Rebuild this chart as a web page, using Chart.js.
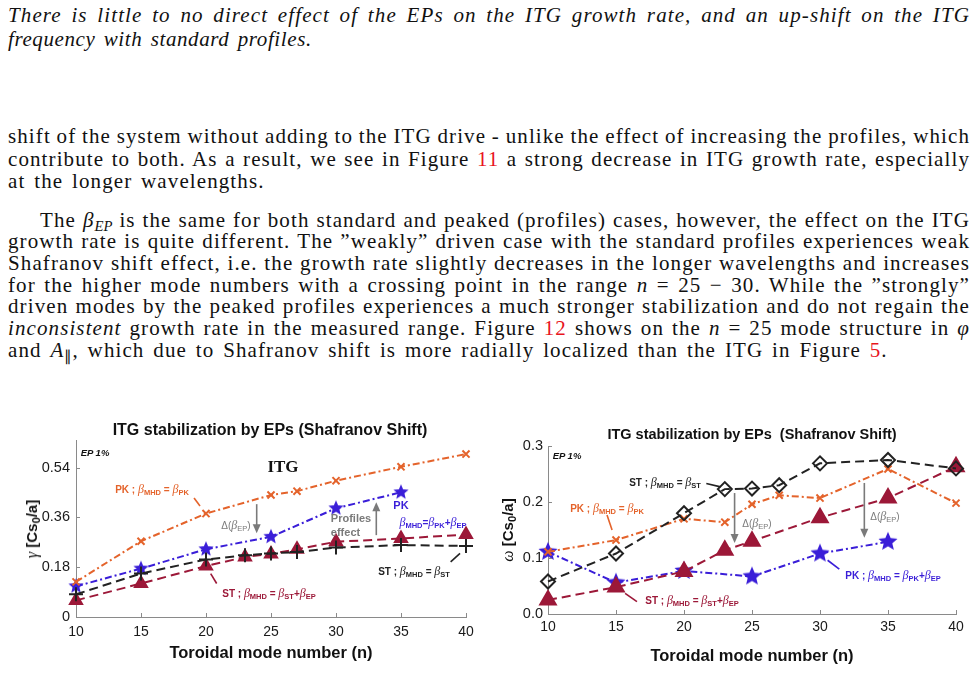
<!DOCTYPE html>
<html>
<head>
<meta charset="utf-8">
<script src="https://cdn.jsdelivr.net/npm/chart.js@4.4.1/dist/chart.umd.min.js"></script>
<style>
  body { margin: 0; width: 978px; height: 688px; position: relative; overflow: hidden; background: #fff; color: #111; font-family: "Liberation Serif", serif; }
  .ln { position: absolute; left: 8px; width: 962px; font-size: 21px; line-height: 22px; white-space: nowrap; letter-spacing: 1.1px; word-spacing: 2.5px; }
  .ln sub { font-size: 0.7em; vertical-align: -0.25em; line-height: 0; letter-spacing: 0; }
  .r { color: #e8141c; }
  canvas { position: absolute; top: 420px; }
  .a { position: absolute; white-space: nowrap; transform: translate(-50%, -50%); font-family: "Liberation Sans", Arial, sans-serif; }
  .ttl { font-size: 16px; font-weight: bold; color: #111; }
  .xl { font-size: 16.5px; font-weight: bold; color: #111; }
  .yl { font-size: 15px; font-weight: bold; color: #111; transform: translate(-50%, -50%) rotate(-90deg); }
  .yl i { font-family: "Liberation Serif", serif; font-weight: normal; font-size: 16px; }
  .yl sub, .ann sub { line-height: 0; vertical-align: -0.3em; font-size: 0.75em; }
  .ep { font-size: 9.5px; font-weight: bold; font-style: italic; }
  .ann { font-size: 10px; font-weight: bold; }
  .ann i { font-family: "Liberation Serif", serif; font-weight: normal; font-size: 12px; }
  .gr { color: #7a7a7a; }
</style>
</head>
<body>

<div class="ln j" style="top:4px"><span><i>There is little to no direct effect of the EPs on the ITG growth rate, and an up-shift on the ITG</i></span></div>
<div class="ln" style="top:28px;letter-spacing:0.6px"><span><i>frequency with standard profiles.</i></span></div>

<div class="ln j" style="top:125px"><span>shift of the system without adding to the ITG drive - unlike the effect of increasing the profiles, which</span></div>
<div class="ln j" style="top:148px"><span>contribute to both. As a result, we see in Figure <span class="r">11</span> a strong decrease in ITG growth rate, especially</span></div>
<div class="ln" style="top:170px"><span>at the longer wavelengths.</span></div>
<div class="ln j" style="top:209px;padding-left:32px;width:930px"><span>The <i>β<sub>EP</sub></i> is the same for both standard and peaked (profiles) cases, however, the effect on the ITG</span></div>
<div class="ln j" style="top:230px"><span>growth rate is quite different. The ”weakly” driven case with the standard profiles experiences weak</span></div>
<div class="ln j" style="top:252px"><span>Shafranov shift effect, i.e. the growth rate slightly decreases in the longer wavelengths and increases</span></div>
<div class="ln j" style="top:274px"><span>for the higher mode numbers with a crossing point in the range <i>n</i> = 25 − 30. While the ”strongly”</span></div>
<div class="ln j" style="top:295px"><span>driven modes by the peaked profiles experiences a much stronger stabilization and do not regain the</span></div>
<div class="ln j" style="top:317px"><span><i>inconsistent</i> growth rate in the measured range. Figure <span class="r">12</span> shows on the <i>n</i> = 25 mode structure in <i>φ</i></span></div>
<div class="ln" style="top:339px"><span>and <i>A</i><sub>∥</sub>, which due to Shafranov shift is more radially localized than the ITG in Figure <span class="r">5</span>.</span></div>

<canvas id="gammaChart" width="490" height="268" style="left:0"></canvas>
<canvas id="omegaChart" width="488" height="268" style="left:490px"></canvas>

<!-- left chart texts -->
<div class="a ttl" style="left:270px;top:430px">ITG stabilization by EPs (Shafranov Shift)</div>
<div class="a ep" style="left:95px;top:452px">EP 1%</div>
<div class="a" style="left:283px;top:467px;font-family:'Liberation Serif',serif;font-weight:bold;font-size:17px">ITG</div>
<div class="a ann" style="left:152px;top:489px;color:#e4632b">PK ; <i>β</i><sub>MHD</sub> = <i>β</i><sub>PK</sub></div>
<div class="a ann gr" style="left:236px;top:525px;font-weight:normal">Δ(<i>β</i><sub>EP</sub>)</div>
<div class="a ann gr" style="left:351px;top:525px;font-size:11px;line-height:14px;text-align:left">Profiles<br>effect</div>
<div class="a ann" style="left:401px;top:505px;color:#3a1ed8;font-size:11px">PK</div>
<div class="a ann" style="left:433px;top:522px;color:#3a1ed8"><i>β</i><sub>MHD</sub>=<i>β</i><sub>PK</sub>+<i>β</i><sub>EP</sub></div>
<div class="a ann" style="left:414px;top:571px;color:#222">ST ; <i>β</i><sub>MHD</sub> = <i>β</i><sub>ST</sub></div>
<div class="a ann" style="left:269px;top:593px;color:#9c1838">ST ; <i>β</i><sub>MHD</sub> = <i>β</i><sub>ST</sub>+<i>β</i><sub>EP</sub></div>
<div class="a yl" style="left:32px;top:529px"><i>γ</i> [Cs<sub>0</sub>/a]</div>
<div class="a xl" style="left:271px;top:652px">Toroidal mode number (n)</div>

<!-- right chart texts -->
<div class="a ttl" style="left:752px;top:434px;font-size:14.5px;white-space:pre">ITG stabilization by EPs  (Shafranov Shift)</div>
<div class="a ep" style="left:567px;top:455px">EP 1%</div>
<div class="a ann" style="left:665px;top:482px;color:#222">ST ; <i>β</i><sub>MHD</sub> = <i>β</i><sub>ST</sub></div>
<div class="a ann" style="left:607px;top:508px;color:#e4632b">PK ; <i>β</i><sub>MHD</sub> = <i>β</i><sub>PK</sub></div>
<div class="a ann gr" style="left:757px;top:523px;font-weight:normal">Δ(<i>β</i><sub>EP</sub>)</div>
<div class="a ann gr" style="left:885px;top:516px;font-weight:normal">Δ(<i>β</i><sub>EP</sub>)</div>
<div class="a ann" style="left:692px;top:600px;color:#9c1838">ST ; <i>β</i><sub>MHD</sub> = <i>β</i><sub>ST</sub>+<i>β</i><sub>EP</sub></div>
<div class="a ann" style="left:893px;top:575px;color:#3a1ed8">PK ; <i>β</i><sub>MHD</sub> = <i>β</i><sub>PK</sub>+<i>β</i><sub>EP</sub></div>
<div class="a yl" style="left:508px;top:530px"><i>ω</i> [Cs<sub>0</sub>/a]</div>
<div class="a xl" style="left:752px;top:655px">Toroidal mode number (n)</div>

<script>
// stretch the justified lines to the full text width
document.querySelectorAll('.ln.j').forEach(d => {
  const span = d.firstElementChild;
  const avail = d.clientWidth - (parseFloat(d.style.paddingLeft) || 0);
  const w = span.getBoundingClientRect().width;
  const spaces = (span.textContent.match(/ /g) || []).length;
  d.style.wordSpacing = (2.5 + (avail - w) / spaces) + 'px';
});

// axis ticks
const nTicks = [10, 15, 20, 25, 30, 35, 40];
const gammaTicks = [0, 0.18, 0.36, 0.54];
const gammaTickLabels = ['0', '0.18', '0.36', '0.54'];
const omegaTicks = [0, 0.1, 0.2, 0.3];
const omegaTickLabels = ['0.0', '0.1', '0.2', '0.3'];

// growth rate gamma (left panel)
const nPK = [10, 15, 20, 25, 27, 30, 35, 40];
const gammaPK = [0.127, 0.274, 0.374, 0.441, 0.455, 0.493, 0.543, 0.589];
const nPKEP = [10, 15, 20, 25, 30, 35];
const gammaPKEP = [0.111, 0.175, 0.245, 0.290, 0.393, 0.451];
const nST = [10, 15, 20, 23, 25, 27, 30, 35, 40];
const gammaST = [0.082, 0.157, 0.208, 0.223, 0.230, 0.235, 0.251, 0.260, 0.257];
const nSTEP = [10, 15, 20, 23, 25, 27, 30, 35, 40];
const gammaSTEP = [0.060, 0.121, 0.184, 0.217, 0.228, 0.245, 0.272, 0.284, 0.298];

// frequency omega (right panel)
const nSTw = [10, 15, 20, 23, 25, 27, 30, 35, 40];
const omegaST = [0.058, 0.108, 0.180, 0.223, 0.224, 0.230, 0.269, 0.275, 0.260];
const nPKw = [10, 15, 20, 23, 25, 27, 30, 35, 40];
const omegaPK = [0.111, 0.132, 0.170, 0.164, 0.196, 0.212, 0.207, 0.259, 0.198];
const nSTEPw = [10, 15, 20, 23, 25, 30, 35, 40];
const omegaSTEP = [0.025, 0.048, 0.076, 0.114, 0.130, 0.172, 0.207, 0.263];
const nPKEPw = [10, 15, 20, 25, 30, 35];
const omegaPKEP = [0.111, 0.056, 0.077, 0.067, 0.108, 0.129];

const ORANGE = '#e4632b';
const BLUE = '#3a1ed8';
const RED = '#9c1838';
const BLACK = '#222';
const GRAY = '#7a7a7a';
const AXIS = '#8a8a8a';

const DASHDOT = [7, 3, 2, 3];
const DASHED = [9, 5];

// filled five point star used as marker
function starImg(r, color) {
  const c = document.createElement('canvas');
  c.width = c.height = 2 * r + 2;
  const g = c.getContext('2d');
  g.beginPath();
  for (let i = 0; i < 10; i++) {
    const a = -Math.PI / 2 + i * Math.PI / 5;
    const rr = i % 2 ? r * 0.45 : r;
    g.lineTo(r + 1 + rr * Math.cos(a), r + 1 + rr * Math.sin(a));
  }
  g.closePath();
  g.fillStyle = color;
  g.fill();
  return c;
}

const pts = (xs, ys) => xs.map((x, i) => ({ x: x, y: ys[i] }));

// inward ticks, leader lines and arrows
const deco = {
  id: 'deco',
  afterDatasetsDraw(chart, args, opts) {
    const { ctx, scales: { x, y } } = chart;
    ctx.save();
    ctx.strokeStyle = AXIS;
    ctx.lineWidth = 1;
    ctx.setLineDash([]);
    x.ticks.forEach(t => {
      const px = Math.round(x.getPixelForValue(t.value)) + 0.5;
      ctx.beginPath(); ctx.moveTo(px, y.bottom); ctx.lineTo(px, y.bottom - 4); ctx.stroke();
    });
    y.ticks.forEach(t => {
      const py = Math.round(y.getPixelForValue(t.value)) + 0.5;
      ctx.beginPath(); ctx.moveTo(x.left, py); ctx.lineTo(x.left + 4, py); ctx.stroke();
    });
    (opts.leaders || []).forEach(l => {
      ctx.strokeStyle = l.color;
      ctx.lineWidth = 1.6;
      ctx.beginPath();
      ctx.moveTo(x.getPixelForValue(l.from[0]), y.getPixelForValue(l.from[1]));
      ctx.lineTo(x.getPixelForValue(l.to[0]), y.getPixelForValue(l.to[1]));
      ctx.stroke();
    });
    (opts.arrows || []).forEach(a => {
      const x0 = x.getPixelForValue(a.from[0]), y0 = y.getPixelForValue(a.from[1]);
      const x1 = x.getPixelForValue(a.to[0]), y1 = y.getPixelForValue(a.to[1]);
      const dir = Math.sign(y1 - y0);
      ctx.strokeStyle = GRAY;
      ctx.fillStyle = GRAY;
      ctx.lineWidth = 1.6;
      ctx.beginPath(); ctx.moveTo(x0, y0); ctx.lineTo(x1, y1 - dir * 6); ctx.stroke();
      ctx.beginPath();
      ctx.moveTo(x1, y1);
      ctx.lineTo(x1 - 4, y1 - dir * 9);
      ctx.lineTo(x1 + 4, y1 - dir * 9);
      ctx.closePath();
      ctx.fill();
    });
    ctx.restore();
  }
};

function makeScales(yMax, yTicks, yLabels, yWidth, xHeight, xPad, yPad) {
  return {
    x: {
      type: 'linear', min: 10, max: 40,
      afterBuildTicks: s => { s.ticks = nTicks.map(v => ({ value: v })); },
      afterFit: s => { s.height = xHeight; },
      grid: { display: false, drawTicks: false },
      border: { display: true, color: AXIS, width: 1 },
      ticks: { color: '#1a1a1a', padding: xPad, maxRotation: 0, font: { family: 'Liberation Sans', size: 14 } }
    },
    y: {
      type: 'linear', min: 0, max: yMax,
      afterBuildTicks: s => { s.ticks = yTicks.map(v => ({ value: v })); },
      afterFit: s => { s.width = yWidth; },
      grid: { display: false, drawTicks: false },
      border: { display: true, color: AXIS, width: 1 },
      ticks: {
        color: '#1a1a1a', padding: yPad, font: { family: 'Liberation Sans', size: 14.5 },
        callback: v => yLabels[yTicks.indexOf(v)]
      }
    }
  };
}

function series(data, color, dash, style, radius, extra) {
  return Object.assign({
    data: data, borderColor: color, backgroundColor: color, borderWidth: 2,
    borderDash: dash, pointStyle: style, pointRadius: radius,
    pointBorderColor: color, pointBackgroundColor: color, pointBorderWidth: 2,
    tension: 0, clip: false, fill: false
  }, extra || {});
}

// left: growth rate
new Chart(document.getElementById('gammaChart'), {
  type: 'line',
  data: {
    datasets: [
      series(pts(nPK, gammaPK), ORANGE, DASHDOT, 'crossRot', 5),
      series(pts(nST, gammaST), BLACK, DASHED, 'cross', 7),
      series(pts(nSTEP, gammaSTEP), RED, DASHED, 'triangle', 7),
      series(pts(nPKEP, gammaPKEP), BLUE, DASHDOT, starImg(8, BLUE), 8)
    ]
  },
  options: {
    responsive: false,
    animation: false,
    devicePixelRatio: 1,
    layout: { padding: { top: 20, right: 24, left: 0, bottom: 0 } },
    scales: makeScales(0.64, gammaTicks, gammaTickLabels, 76, 71, 7, 6),
    plugins: {
      legend: { display: false },
      tooltip: { enabled: false },
      deco: {
        leaders: [
          { from: [19.08, 0.430], to: [19.54, 0.401], color: ORANGE },
          { from: [38.82, 0.199], to: [39.54, 0.230], color: BLACK },
          { from: [20.36, 0.157], to: [20.82, 0.121], color: RED }
        ],
        arrows: [
          { from: [23.9, 0.408], to: [23.9, 0.303] },
          { from: [33.1, 0.296], to: [33.1, 0.415] }
        ]
      }
    }
  },
  plugins: [deco]
});

// right: frequency
new Chart(document.getElementById('omegaChart'), {
  type: 'line',
  data: {
    datasets: [
      series(pts(nSTw, omegaST), BLACK, DASHED, 'rectRot', 7, { pointBackgroundColor: 'rgba(0,0,0,0)' }),
      series(pts(nPKw, omegaPK), ORANGE, DASHDOT, 'crossRot', 5),
      series(pts(nSTEPw, omegaSTEP), RED, DASHED, 'triangle', 9),
      series(pts(nPKEPw, omegaPKEP), BLUE, DASHDOT, starImg(10, BLUE), 10)
    ]
  },
  options: {
    responsive: false,
    animation: false,
    devicePixelRatio: 1,
    layout: { padding: { top: 26, right: 22, left: 0, bottom: 0 } },
    scales: makeScales(0.3, omegaTicks, omegaTickLabels, 58, 74, 5, 5),
    plugins: {
      legend: { display: false },
      tooltip: { enabled: false },
      deco: {
        leaders: [
          { from: [21.64, 0.233], to: [22.69, 0.227], color: BLACK },
          { from: [14.34, 0.177], to: [14.71, 0.150], color: ORANGE },
          { from: [15.67, 0.037], to: [16.54, 0.022], color: RED },
          { from: [30.56, 0.096], to: [31.42, 0.080], color: BLUE }
        ],
        arrows: [
          { from: [23.72, 0.216], to: [23.72, 0.127] },
          { from: [33.26, 0.234], to: [33.26, 0.136] }
        ]
      }
    }
  },
  plugins: [deco]
});
</script>
</body>
</html>
